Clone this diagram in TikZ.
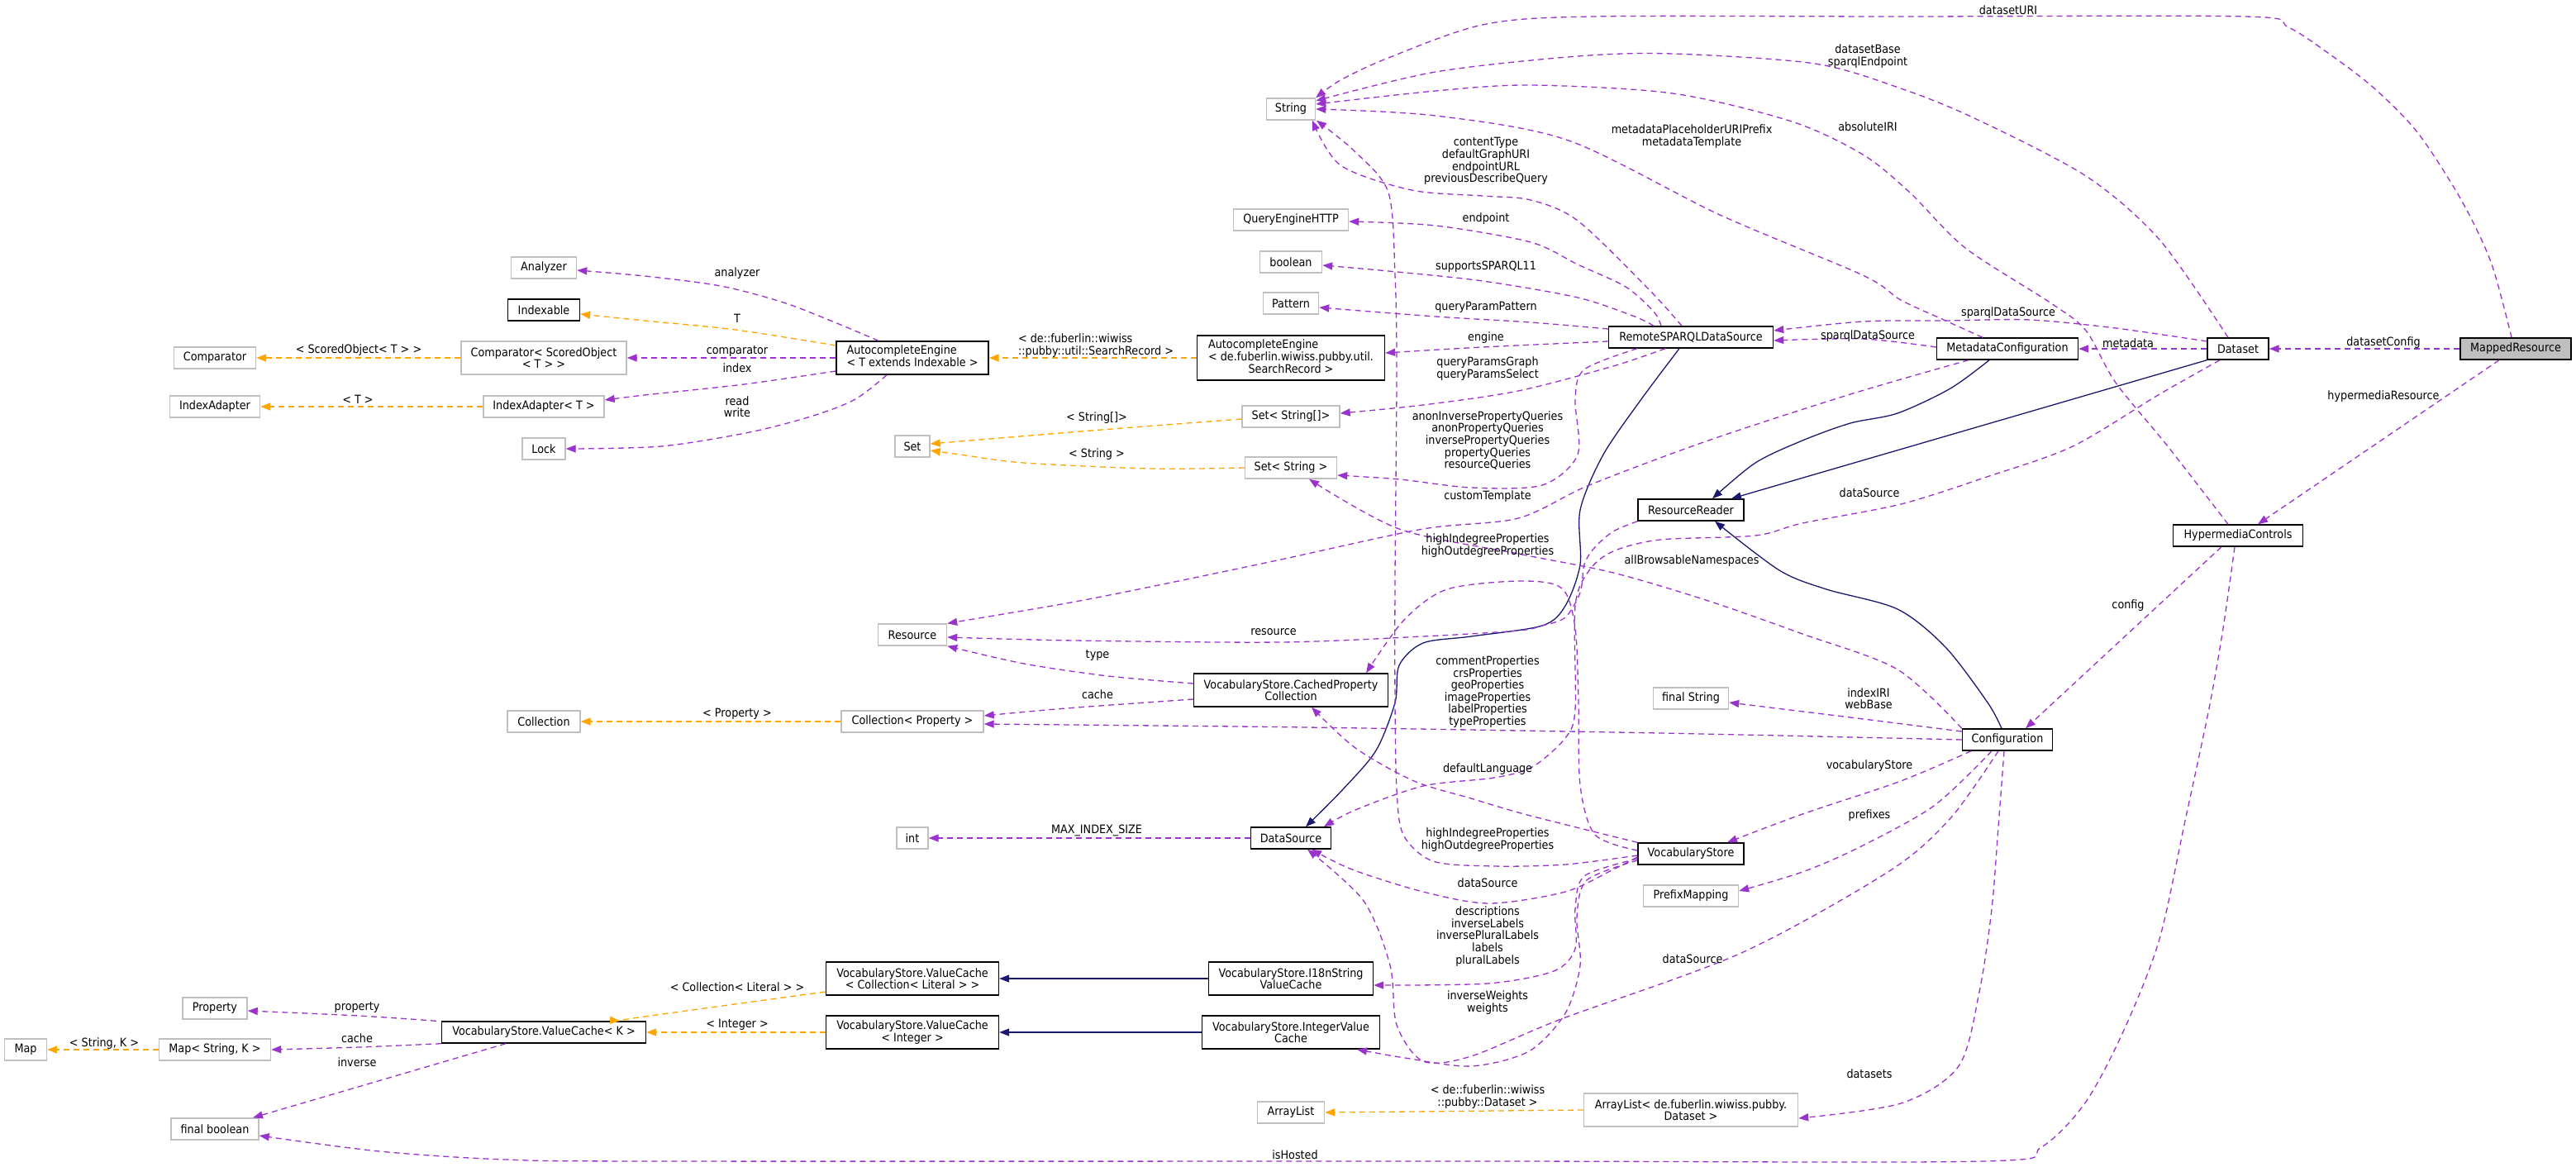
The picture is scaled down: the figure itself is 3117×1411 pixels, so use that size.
\documentclass[tikz,border=0pt]{standalone}
\usepackage{fontspec}
\setmainfont{DejaVu Sans}[FakeStretch=0.9]
\usetikzlibrary{arrows.meta}
\definecolor{purp}{HTML}{9A32CD}
\definecolor{orng}{HTML}{FFA500}
\definecolor{midb}{HTML}{191970}
\definecolor{gry}{HTML}{BFBFBF}
\newcommand\nf{\fontsize{14.2}{14.6}\selectfont}
\newcommand\lfirst[2]{\begin{tabular}{@{}l@{}}#1\\\multicolumn{1}{@{}c@{}}{#2}\end{tabular}}
\newcommand\lfirstt[3]{\begin{tabular}{@{}l@{}}#1\\#2\\\multicolumn{1}{@{}c@{}}{#3}\end{tabular}}
\begin{document}
\begin{tikzpicture}[x=1pt,y=-1pt,
 nb/.style={rectangle, inner xsep=4pt, inner ysep=2pt, font=\nf, align=center, minimum height=26pt, line width=1.4pt},
 und/.style={nb, draw=gry},
 doc/.style={nb, draw=black},
 ue/.style={draw=purp, line width=1.3pt, dash pattern=on 7pt off 5pt, -{Triangle[length=12pt,width=9pt]}},
 te/.style={draw=orng, line width=1.3pt, dash pattern=on 7pt off 5pt, -{Triangle[length=12pt,width=9pt]}},
 ie/.style={draw=midb, line width=1.3pt, -{Triangle[length=12pt,width=9pt]}},
 lb/.style={font=\nf, align=center, inner sep=0pt},
 sm/.style={smooth, tension=0.5}]
\fill[white] (0,0) rectangle (3117,1411);
\useasboundingbox (0,0) rectangle (3117,1411);
% ---------- nodes ----------
\node[und,minimum width=51pt] (map) at (31,1270) {Map};
\node[und,minimum width=99pt] (comparator) at (260,433) {Comparator};
\node[und,minimum width=109pt] (indexadapter) at (260,492) {IndexAdapter};
\node[und,minimum width=78pt] (property) at (260,1220) {Property};
\node[und,minimum width=135pt] (mapsk) at (260,1270) {Map< String, K >};
\node[und,minimum width=106pt] (finalbool) at (260,1366) {final boolean};
\node[und,minimum width=79pt] (analyzer) at (658,324) {Analyzer};
\node[doc,minimum width=87pt] (indexable) at (658,375) {Indexable};
\node[und,minimum width=200pt,minimum height=40pt] (compso) at (658,433) {Comparator< ScoredObject\\< T > >};
\node[und,minimum width=146pt] (iat) at (658,492) {IndexAdapter< T >};
\node[und,minimum width=52pt] (lock) at (658,543) {Lock};
\node[und,minimum width=88pt] (collection) at (658,873) {Collection};
\node[doc,minimum width=247pt] (vck) at (658,1249) {VocabularyStore.ValueCache< K >};
\node[doc,minimum width=184pt,minimum height=40pt] (ace) at (1104,433) {\lfirst{AutocompleteEngine}{< T extends Indexable >}};
\node[und,minimum width=42pt] (set) at (1104,540) {Set};
\node[und,minimum width=83pt] (resource) at (1104,768) {Resource};
\node[und,minimum width=172pt] (colprop) at (1104,873) {Collection< Property >};
\node[und,minimum width=38pt] (int) at (1104,1014) {int};
\node[doc,minimum width=209pt,minimum height=40pt] (vccl) at (1104,1184) {VocabularyStore.ValueCache\\< Collection< Literal > >};
\node[doc,minimum width=209pt,minimum height=40pt] (vci) at (1104,1249) {VocabularyStore.ValueCache\\< Integer >};
\node[und,minimum width=59pt] (string) at (1562,132) {String};
\node[und,minimum width=139pt] (qe) at (1562,266) {QueryEngineHTTP};
\node[und,minimum width=75pt] (boolean) at (1562,317) {boolean};
\node[und,minimum width=67pt] (pattern) at (1562,367) {Pattern};
\node[doc,minimum width=227pt,minimum height=54pt] (acsr) at (1562,433) {\lfirstt{AutocompleteEngine}{< de.fuberlin.wiwiss.pubby.util.}{SearchRecord >}};
\node[und,minimum width=118pt] (setsa) at (1562,504) {Set< String[]>};
\node[und,minimum width=111pt] (sets) at (1562,566) {Set< String >};
\node[doc,minimum width=235pt,minimum height=40pt] (cpc) at (1562,835) {VocabularyStore.CachedProperty\\Collection};
\node[doc,minimum width=97pt] (datasource) at (1562,1014) {DataSource};
\node[doc,minimum width=199pt,minimum height=40pt] (i18n) at (1562,1184) {VocabularyStore.I18nString\\ValueCache};
\node[doc,minimum width=215pt,minimum height=40pt] (ivc) at (1562,1249) {VocabularyStore.IntegerValue\\Cache};
\node[und,minimum width=81pt] (arraylist) at (1562,1346) {ArrayList};
\node[doc,minimum width=199pt] (remote) at (2046,408) {RemoteSPARQLDataSource};
\node[doc,minimum width=128pt] (resreader) at (2046,617) {ResourceReader};
\node[und,minimum width=91pt] (finalstring) at (2046,845) {final String};
\node[doc,minimum width=128pt] (vocab) at (2046,1033) {VocabularyStore};
\node[und,minimum width=115pt] (prefix) at (2046,1084) {PrefixMapping};
\node[und,minimum width=259pt,minimum height=40pt] (alds) at (2046,1343) {ArrayList< de.fuberlin.wiwiss.pubby.\\Dataset >};
\node[doc,minimum width=171pt] (metadata) at (2429,422) {MetadataConfiguration};
\node[doc,minimum width=109pt] (config) at (2429,895) {Configuration};
\node[doc,minimum width=74pt] (dataset) at (2708,422) {Dataset};
\node[doc,minimum width=157pt] (hyper) at (2708,648) {HypermediaControls};
\node[doc,fill=gry,minimum width=134pt] (mapped) at (3044,422) {MappedResource};
% ---------- template edges ----------
\draw[te] plot[sm] coordinates {([yshift=15pt]ace.west) (890,399) (780,388) ([yshift=-5pt]indexable.east)};
\draw[te] (acsr.west) -- (ace.east);
\draw[te] plot[sm] coordinates {([yshift=-3pt]setsa.west) (1320,521) ([yshift=3pt]set.east)};
\draw[te] plot[sm] coordinates {(sets.west) (1392,567) (1239,560) (1162,550) ([yshift=-5pt]set.east)};
\draw[te] (compso.west) -- (comparator.east);
\draw[te] (iat.west) -- (indexadapter.east);
\draw[te] (colprop.west) -- (collection.east);
\draw[te] plot[sm] coordinates {([yshift=-16pt]vccl.west) (780,1230) ([xshift=92pt]vck.north)};
\draw[te] (vci.west) -- (vck.east);
\draw[te] (mapsk.west) -- (map.east);
\draw[te] (alds.west) -- (arraylist.east);
% ---------- inheritance edges ----------
\draw[ie] plot[sm] coordinates {([xshift=-14pt]remote.south) (1986,483) (1940,550) (1912,617) (1912,683) (1894,733) (1866,757) (1780,770) (1722,778) (1693,805) (1688,850) (1665,908) (1625,955) ([xshift=18pt]datasource.north)};
\draw[ie] plot[sm] coordinates {([xshift=-22pt]metadata.south) (2360,470) (2296,500) (2239,512) (2181,533) (2124,560) ([xshift=26pt]resreader.north)};
\draw[ie] (dataset.south west) -- ([xshift=49pt]resreader.north);
\draw[ie] plot[sm] coordinates {([xshift=-7pt]config.north) (2405,850) (2354,783) (2296,737) (2210,713) (2153,690) ([xshift=29pt]resreader.south)};
\draw[ie] (i18n.west) -- (vccl.east);
\draw[ie] (ivc.west) -- (vci.east);
% ---------- usage edges ----------
\draw[ue] plot[sm] coordinates {([xshift=-41pt]ace.north) (1010,390) (948,366) (872,346) (780,334) ([yshift=-3pt]analyzer.east)};
\draw[ue] (ace.west) -- (compso.east);
\draw[ue] plot[sm] coordinates {([yshift=-16pt]ace.west) (900,465) (780,478) ([yshift=8pt]iat.east)};
\draw[ue] plot[sm] coordinates {([xshift=-31pt]ace.south) (1035,483) (984,503) (907,523) (800,540) (lock.east)};
\draw[ue] plot[sm] coordinates {([xshift=-130pt]vck.north) (434,1229) ([yshift=-3pt]property.east)};
\draw[ue] plot[sm] coordinates {(vck.south west) (434,1267) (mapsk.east)};
\draw[ue] ([xshift=-46pt]vck.south) -- ([xshift=46pt]finalbool.north);
\draw[ue] plot[sm] coordinates {([xshift=-4pt]hyper.south) (2690,760) (2673,857) (2644,993) (2613,1136) (2571,1244) (2524,1333) (2470,1388) (2400,1405) (1800,1405) (800,1405) (612,1403) (459,1393) ([yshift=-8pt]finalbool.east)};
\draw[ue] plot[sm] coordinates {([xshift=-11pt]remote.north) (1995,350) (1909,267) (1852,242) (1794,237) (1708,230) (1622,200) ([xshift=26pt]string.south)};
\draw[ue] plot[sm] coordinates {([xshift=-36pt]remote.north) (2001,377) (1967,347) (1909,320) (1852,293) (1737,273) ([yshift=-2pt]qe.east)};
\draw[ue] plot[sm] coordinates {([xshift=-45pt]remote.north) (1978,383) (1909,360) (1794,340) (1680,328) ([yshift=-4pt]boolean.east)};
\draw[ue] plot[sm] coordinates {([yshift=10pt]remote.west) (1852,390) (1737,383) ([yshift=-5pt]pattern.east)};
\draw[ue] plot[sm] coordinates {([yshift=-5pt]remote.west) (1794,420) ([yshift=6pt]acsr.east)};
\draw[ue] plot[sm] coordinates {([xshift=-31pt]remote.south) (1952,443) (1837,473) (1722,490) ([yshift=4pt]setsa.east)};
\draw[ue] plot[sm] coordinates {([xshift=-65pt]remote.south) (1917,447) (1906,483) (1909,550) (1866,587) (1780,590) (1694,580) ([yshift=-9pt]sets.east)};
\draw[ue] plot[sm] coordinates {([xshift=-30pt]metadata.north) (2352,387) (2300,363) (2254,333) (2081,260) (1898,170) (1737,140) ([yshift=0pt]string.east)};
\draw[ue] plot[sm] coordinates {([yshift=2pt]metadata.west) (2254,410) ([yshift=-4pt]remote.east)};
\draw[ue] plot[sm] coordinates {([xshift=-47pt]metadata.south) (2239,477) (2067,533) (1923,587) (1837,627) (1722,640) (1550,677) (1392,710) (1290,730) (resource.north east)};
\draw[ue] plot[sm] coordinates {([xshift=-12pt]dataset.north) (2613,290) (2524,213) (2389,143) (2300,107) (2196,77) (2024,65) (1909,68) (1737,87) ([yshift=10pt]string.east)};
\draw[ue] (dataset.west) -- (metadata.east);
\draw[ue] plot[sm] coordinates {([yshift=9pt]dataset.west) (2560,397) (2456,387) (2352,388) (2254,389) ([yshift=8pt]remote.east)};
\draw[ue] plot[sm] coordinates {([xshift=-22pt]dataset.south) (2613,477) (2508,540) (2404,577) (2300,610) (2181,633) (2124,648) (2009,653) (1952,667) (1923,690) (1906,733) (1906,858) (1894,893) (1854,928) (1808,941) (1722,951) (1640,980) ([xshift=40pt]datasource.north)};
\draw[ue] plot[sm] coordinates {([xshift=-5pt]mapped.north) (3014,317) (2977,240) (2925,160) (2873,107) (2821,67) (2769,33) (2717,20) (2300,20) (1926,20) (1794,30) (1680,70) (1622,97) (string.north east)};
\draw[ue] (mapped.west) -- (dataset.east);
\draw[ue] ([xshift=-20pt]mapped.south) -- ([xshift=24pt]hyper.north);
\draw[ue] plot[sm] coordinates {([xshift=-12pt]hyper.north) (2623,540) (2560,463) (2524,400) (2482,367) (2378,300) (2311,233) (2254,187) (2168,147) (2024,113) (1852,103) (1737,110) ([yshift=6pt]string.east)};
\draw[ue] ([xshift=-20pt]hyper.south) -- ([xshift=22pt]config.north);
\draw[ue] plot[sm] coordinates {([yshift=10pt]config.west) (2239,868) ([yshift=-5pt]finalstring.east)};
\draw[ue] plot[sm] coordinates {(config.west) (2009,887) (1580,880) ([yshift=-3pt]colprop.east)};
\draw[ue] plot[sm] coordinates {(config.north west) (2296,810) (2181,767) (2067,727) (1952,693) (1837,670) (1693,640) ([xshift=22pt]sets.south)};
\draw[ue] plot[sm] coordinates {([xshift=-44pt]config.south) (2300,945) (2181,985) ([xshift=44pt]vocab.north)};
\draw[ue] plot[sm] coordinates {([xshift=-19pt]config.south) (2340,975) (2250,1025) (2181,1055) ([yshift=6pt]prefix.east)};
\draw[ue] plot[sm] coordinates {([xshift=-11pt]config.south) (2360,990) (2286,1054) (2107,1153) (1889,1233) (1780,1278) (1722,1284) (1690,1240) (1682,1168) (1650,1090) ([xshift=20pt]datasource.south)};
\draw[ue] plot[sm] coordinates {([xshift=-4pt]config.south) (2418,1000) (2410,1100) (2395,1200) (2370,1290) (2300,1335) ([yshift=-10pt]alds.east)};
\draw[ue] plot[sm] coordinates {([yshift=-2pt]vocab.west) (1894,1046) (1808,1048) (1734,1042) (1698,1010) (1690,955) (1688,850) (1688,700) (1690,450) (1688,333) (1680,233) (1639,183) ([xshift=31pt]string.south)};
\draw[ue] plot[sm] coordinates {(vocab.north west) (1848,986) (1780,966) (1711,945) (1640,905) ([xshift=25pt]cpc.south)};
\draw[ue] plot[sm] coordinates {([yshift=-4pt]vocab.west) (1952,1052) (1894,1079) (1802,1093) (1722,1079) (1636,1052) ([xshift=25pt]datasource.south)};
\draw[ue] plot[sm] coordinates {([yshift=-6pt]vocab.west) (1917,1060) (1906,1100) (1906,1148) (1880,1175) (1800,1190) ([yshift=-8pt]i18n.east)};
\draw[ue] plot[sm] coordinates {([yshift=-8pt]vocab.west) (1920,1065) (1908,1110) (1912,1168) (1894,1226) (1850,1272) (1780,1290) (1700,1280) ([xshift=80pt]ivc.south)};
\draw[ue] plot[sm] coordinates {([yshift=4pt]vocab.west) (1930,1010) (1912,950) (1910,850) (1906,760) (1890,712) (1840,703) (1751,713) (1699,750) ([xshift=91pt]cpc.north)};
\draw[ue] plot[sm] coordinates {([yshift=8pt]cpc.west) (1341,818) (1239,803) (resource.south east)};
\draw[ue] plot[sm] coordinates {([yshift=-11pt]cpc.west) (1290,857) ([yshift=7pt]colprop.east)};
\draw[ue] (datasource.west) -- (int.east);
\draw[ue] plot[sm] coordinates {(resreader.south west) (1952,643) (1929,663) (1917,683) (1912,717) (1894,747) (1866,757) (1837,763) (1722,770) (1550,777) (1300,775) ([yshift=-3pt]resource.east)};
% ---------- labels ----------
\node[lb] (l1) at (892,331) {analyzer};
\node[lb] (l2) at (892,385) {T};
\node[lb] (l3) at (892,425) {comparator};
\node[lb] (l4) at (892,445) {index};
\node[lb] (l5) at (892,492) {read\\write};
\node[lb,align=left] (l6) at (1326,418) {< de::fuberlin::wiwiss\\::pubby::util::SearchRecord >};
\node[lb] (l7) at (1327,506) {< String[]>};
\node[lb] (l8) at (1327,550) {< String >};
\node[lb] (l9) at (434,424) {< ScoredObject< T > >};
\node[lb] (l10) at (433,483) {< T >};
\node[lb] (l11) at (892,864) {< Property >};
\node[lb] (l12) at (1328,793) {type};
\node[lb] (l13) at (1328,840) {cache};
\node[lb] (l14) at (1541,765) {resource};
\node[lb] (l15) at (1800,601) {customTemplate};
\node[lb] (l16) at (1327,1005) {MAX\_INDEX\_SIZE};
\node[lb] (l17) at (892,1194) {< Collection< Literal > >};
\node[lb] (l18) at (892,1240) {< Integer >};
\node[lb] (l19) at (432,1219) {property};
\node[lb] (l20) at (432,1256) {cache};
\node[lb] (l21) at (432,1285) {inverse};
\node[lb] (l22) at (126,1263) {< String, K >};
\node[lb] (l23) at (1567,1397) {isHosted};
\node[lb] (l24) at (1798,195) {contentType\\defaultGraphURI\\endpointURL\\previousDescribeQuery};
\node[lb] (l25) at (1798,265) {endpoint};
\node[lb] (l26) at (1798,323) {supportsSPARQL11};
\node[lb] (l27) at (1798,372) {queryParamPattern};
\node[lb] (l28) at (1798,409) {engine};
\node[lb] (l29) at (1800,446) {queryParamsGraph\\queryParamsSelect};
\node[lb] (l30) at (1800,533) {anonInversePropertyQueries\\anonPropertyQueries\\inversePropertyQueries\\propertyQueries\\resourceQueries};
\node[lb] (l31) at (1800,660) {highIndegreeProperties\\highOutdegreeProperties};
\node[lb] (l32) at (2047,679) {allBrowsableNamespaces};
\node[lb] (l33) at (2262,596) {dataSource};
\node[lb] (l34) at (2047,165) {metadataPlaceholderURIPrefix\\metadataTemplate};
\node[lb] (l35) at (2260,68) {datasetBase\\sparqlEndpoint};
\node[lb] (l36) at (2260,153) {absoluteIRI};
\node[lb] (l37) at (2430,12) {datasetURI};
\node[lb] (l38) at (2430,379) {sparqlDataSource};
\node[lb] (l39) at (2260,407) {sparqlDataSource};
\node[lb] (l40) at (2575,415) {metadata};
\node[lb] (l41) at (2884,415) {datasetConfig};
\node[lb] (l42) at (2884,480) {hypermediaResource};
\node[lb] (l43) at (2575,733) {config};
\node[lb] (l44) at (2261,845) {indexIRI\\webBase};
\node[lb] (l45) at (2262,927) {vocabularyStore};
\node[lb] (l46) at (2262,987) {prefixes};
\node[lb] (l47) at (1800,837) {commentProperties\\crsProperties\\geoProperties\\imageProperties\\labelProperties\\typeProperties};
\node[lb] (l48) at (1800,931) {defaultLanguage};
\node[lb] (l49) at (1800,1016) {highIndegreeProperties\\highOutdegreeProperties};
\node[lb] (l50) at (1800,1068) {dataSource};
\node[lb] (l51) at (1800,1133) {descriptions\\inverseLabels\\inversePluralLabels\\labels\\pluralLabels};
\node[lb] (l52) at (1800,1213) {inverseWeights\\weights};
\node[lb] (l53) at (2048,1160) {dataSource};
\node[lb] (l54) at (2262,1299) {datasets};
\node[lb] (l55) at (1800,1327) {< de::fuberlin::wiwiss\\::pubby::Dataset >};
\end{tikzpicture}
\end{document}
